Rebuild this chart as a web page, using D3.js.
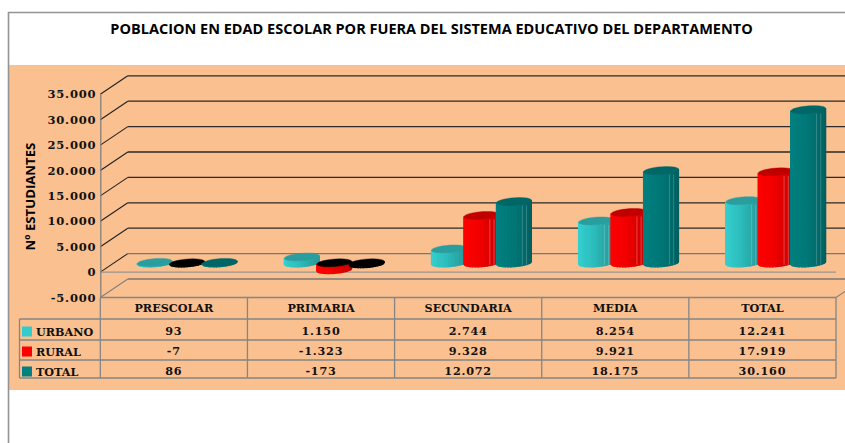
<!DOCTYPE html>
<html><head><meta charset="utf-8">
<script src="https://cdn.jsdelivr.net/npm/d3@7"></script>
<style>html,body{margin:0;padding:0;background:#fff}svg{display:block}</style>
</head><body><svg id="c" width="845" height="443"></svg>
<script>
const categories = ["PRESCOLAR","PRIMARIA","SECUNDARIA","MEDIA","TOTAL"];
const seriesNames = ["URBANO","RURAL","TOTAL"];
const urbano = [93,1150,2744,8254,12241];
const rural = [-7,-1323,9328,9921,17919];
const total = [86,-173,12072,18175,30160];
const yTicks = [-5000,0,5000,10000,15000,20000,25000,30000,35000];
const title = "POBLACION EN EDAD ESCOLAR POR FUERA DEL SISTEMA EDUCATIVO DEL DEPARTAMENTO";
const yTitle = "Nº ESTUDIANTES";
const swatch = ["#33cccc","#ff0000","#008080"];
const bodyStops = [["#35d0d0","#2cbcbc","#2aa8a8","#2a9a9a"],["#ff0000","#f20000","#dc0000","#c80000"],["#008080","#007878","#006e6e","#006060"]];
const capFill = ["#2a9e9e","#c00000","#006666"];
const serif = "'DejaVu Serif', serif";
const series = [urbano,rural,total];
const fmtBase = d3.formatLocale({decimal:",",thousands:".",grouping:[3],currency:["$",""],minus:"-"}).format(",d");
const fmt = fmtBase;

const svg = d3.select("#c");
const W=845,H=443;
const x = d3.scaleBand().domain(categories).range([100.3,836]);
const y = d3.scaleLinear().domain([-5000,35000]).range([297.5,94.3]);
const back = {dx:27.5,dy:18.5};
const mid = {dx:back.dx/2-0.5,dy:back.dy/2};
const inner = d3.scaleBand().domain(d3.range(3)).range([-48.75,48.75]);
const r=16.5,ox=5.8,oy=4,nFacets=18;

svg.append("rect").attr("width",W).attr("height",H).attr("fill","#fff");
svg.append("rect").attr("x",9).attr("y",65).attr("width",W-9).attr("height",325).attr("fill","#fac090");
svg.append("path").attr("d",`M8.5,${H}V12.5H${W}`).attr("fill","none").attr("stroke","#949494").attr("stroke-width",1.6);
svg.append("text").attr("x",431.5).attr("y",34).attr("text-anchor","middle").attr("font-family","'Open Sans',sans-serif")
  .attr("font-weight",700).attr("font-size",14.5).attr("fill","#000").text(title);

// walls
const grid = svg.append("g");
yTicks.forEach(v=>{
  const col = v<0 ? "#808080" : "#222";
  const backCol = v<=0 ? "#777" : "#2a2a2a";
  grid.append("line").attr("x1",x.range()[0]).attr("y1",y(v)).attr("x2",x.range()[0]+back.dx).attr("y2",y(v)-back.dy).attr("stroke",col).attr("stroke-width",1.1);
  grid.append("line").attr("x1",x.range()[0]+back.dx).attr("y1",y(v)-back.dy).attr("x2",W).attr("y2",y(v)-back.dy).attr("stroke",backCol).attr("stroke-width",1.3);
});
grid.append("line").attr("x1",x.range()[0]).attr("y1",y(0)).attr("x2",x.range()[1]).attr("y2",y(0)).attr("stroke","#969696").attr("stroke-width",1.3);
grid.append("line").attr("x1",x.range()[1]).attr("y1",y(-5000)).attr("x2",x.range()[1]+back.dx).attr("y2",y(-5000)-back.dy).attr("stroke","#808080").attr("stroke-width",1.1);

// cylinders
function ringPt(cx,cy,t){return [cx+r*Math.cos(t)+ox*Math.sin(t),cy-oy*Math.sin(t)];}
const t0=Math.atan2(ox,r)+Math.PI;
function capPath(cx,cy){
  return d3.line()(d3.range(24).map(i=>ringPt(cx,cy,i/24*2*Math.PI)))+"Z";
}
function cylinder(g,cx,v,si){
  const y0=y(0)-mid.dy, y1=y(v)-mid.dy;
  const topY=Math.min(y0,y1), botY=Math.max(y0,y1);
  const neg=v<0;
  const ramp=d3.scaleLinear().domain([0,.45,.75,1]).range(bodyStops[si]).interpolate(d3.interpolateRgb);
  const bodyCol = k => (neg && Math.abs(v)<500) ? "#000" : ramp(k);
  for(let i=0;i<nFacets;i++){
    const a=t0+i/nFacets*Math.PI, b=t0+(i+1)/nFacets*Math.PI;
    const pa=ringPt(cx,topY,a), pb=ringPt(cx,topY,b), qa=ringPt(cx,botY,a), qb=ringPt(cx,botY,b);
    const k=(pa[0]+pb[0])/2; const kn=(k-(cx-17.5))/35;
    g.append("path").attr("d",d3.line()([pa,pb,qb,qa])+"Z").attr("fill",bodyCol(kn)).attr("stroke",bodyCol(kn)).attr("stroke-width",1.2);
  }
  // pale facet seams, as in the reference
  if(botY-topY>14){
    [.74,.86].forEach(f=>{
      const sx=cx-17.5+35*f;
      g.append("line").attr("x1",sx).attr("x2",sx).attr("y1",topY+4).attr("y2",botY+2)
        .attr("stroke","#fff").attr("stroke-opacity",si===1?.3:.22).attr("stroke-width",.9);
    });
  }
  g.append("path").attr("d",capPath(cx,topY)).attr("fill",neg?"#000":capFill[si]).attr("stroke",neg?"#000":capFill[si]).attr("stroke-width",.4);
}
const bars=svg.append("g");
categories.forEach((c,ci)=>{
  series.forEach((s,si)=>{
    const cx=x(c)+x.bandwidth()/2+mid.dx+inner(si)+inner.bandwidth()/2;
    cylinder(bars.append("g"),cx,s[ci],si);
  });
});

// value axis
const axis=d3.axisLeft(y).tickValues(yTicks).tickSize(0).tickPadding(4).tickFormat(fmt);
const ag=svg.append("g").attr("transform",`translate(${x.range()[0]},0)`).call(axis);
ag.select(".domain").attr("stroke","#808080").attr("stroke-width",1.3);
ag.selectAll("text").attr("font-family",serif).attr("font-weight",700).attr("font-size",11.5).attr("fill","#111").style("letter-spacing","0.8px");
svg.append("text").attr("transform","translate(30.5,196.5) rotate(-90)").attr("text-anchor","middle").attr("font-family","'Open Sans',sans-serif")
  .attr("font-weight",700).attr("font-size",13.2).attr("fill","#000").attr("dy","0.35em").text(yTitle);

// data table
const rows=[319,340,360,378];
const tbl=svg.append("g").attr("stroke","#858585").attr("stroke-width",1.3);
const tTop=y(-5000);
tbl.append("line").attr("x1",x.range()[0]).attr("x2",x.range()[1]).attr("y1",tTop).attr("y2",tTop);
rows.forEach((ry,i)=>tbl.append("line").attr("x1",19.5).attr("x2",x.range()[1]).attr("y1",ry).attr("y2",ry));
tbl.append("line").attr("x1",19.5).attr("x2",19.5).attr("y1",rows[0]).attr("y2",rows[3]);
categories.forEach(c=>tbl.append("line").attr("x1",x(c)).attr("x2",x(c)).attr("y1",tTop).attr("y2",rows[3]));
tbl.append("line").attr("x1",x.range()[1]).attr("x2",x.range()[1]).attr("y1",tTop).attr("y2",rows[3]);
const tf=(sel)=>sel.attr("font-family",serif).attr("font-weight",700).attr("font-size",11.2).attr("fill","#111").attr("dy","0.36em");
categories.forEach(c=>tf(svg.append("text")).attr("x",x(c)+x.bandwidth()/2).attr("y",308).attr("text-anchor","middle").text(c));
const rowY=[331,351,371];
seriesNames.forEach((n,si)=>{
  svg.append("rect").attr("x",22).attr("y",rowY[si]-4.5).attr("width",10).attr("height",10).attr("fill",swatch[si]);
  tf(svg.append("text")).attr("x",36).attr("y",rowY[si]+.5).text(n);
  categories.forEach((c,ci)=>tf(svg.append("text")).attr("x",x(c)+x.bandwidth()/2).attr("y",rowY[si]).attr("text-anchor","middle").style("letter-spacing","0.8px").text(fmt(series[si][ci])));
});
</script></body></html>
